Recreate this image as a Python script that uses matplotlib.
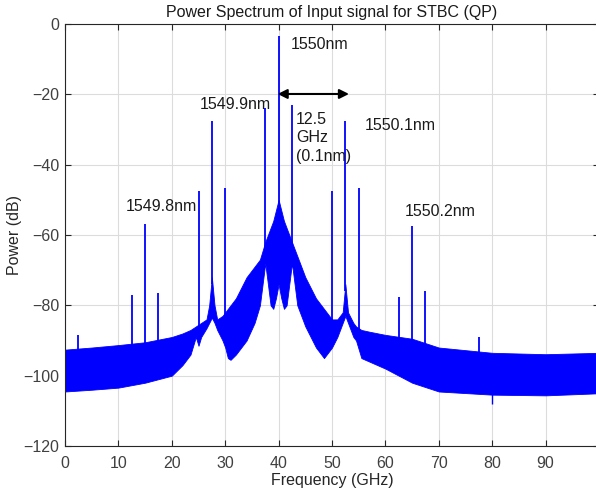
import numpy as np
import matplotlib
matplotlib.use('Agg')
import matplotlib.pyplot as plt

plt.rcParams['font.family'] = ['Liberation Sans', 'DejaVu Sans']

# noise floor / skirt envelope (GHz, dB)
env_freq = [0, 5, 10, 15, 20, 22, 23.5, 24.5, 25, 25.5, 26.5, 27, 27.5, 28, 28.5, 29.5,
            30, 30.5, 31, 32, 34, 35.5, 36.5, 37.5, 38.5, 39, 39.5, 40, 40.5, 41, 41.5,
            42.5, 43.5, 45, 47, 48.5, 49.5, 50, 51, 52, 52.5, 53, 54, 54.5, 55.5, 57,
            60, 65, 70, 80, 90, 100]
env_upper = [-92.6, -92, -91.3, -90.5, -89, -88, -87, -86, -85.5, -85, -84, -80, -72, -80, -84, -83,
             -82, -81, -80, -78, -72, -69, -67, -62, -58, -56, -53, -50, -53, -56, -58,
             -62, -66, -72, -78, -81, -83, -84, -84, -82, -74, -82, -85, -86, -87, -87.5,
             -88.4, -89.5, -92, -93.5, -93.9, -93.5]
env_lower = [-104.5, -104, -103.4, -102, -100, -97, -94, -89, -91.5, -89, -86.5, -85, -83.5, -85, -87, -90,
             -92, -95, -95.5, -94, -90, -85, -80, -68, -80, -81, -78, -74, -78, -81, -80,
             -68, -80, -86, -92, -95, -93, -92, -89, -85, -83, -85, -89, -90, -95, -96,
             -98, -102, -104.5, -105.4, -105.6, -105]

# discrete carriers / sidebands
peak_freq = [2.5, 12.5, 15, 17.5, 25, 27.5, 30, 37.5, 40, 42.5, 50, 52.5, 55, 62.5, 65, 67.5, 77.5]
peak_db = [-88.5, -77, -57, -76.5, -47.5, -27.5, -46.5, -24, -3.5, -23, -47.5, -27.7, -46.7,
           -77.5, -57.3, -76, -89]

# small downward spike seen near 80 GHz
dip_freq = [80]
dip_db = [-108]

labels = ['1550nm', '1549.9nm', '1550.1nm', '1549.8nm', '1550.2nm']
label_x = [42.3, 25.3, 56.2, 11.4, 63.7]
label_y = [-5.7, -23, -29, -52, -53.4]

blue = (0, 0, 1)
grey = '#262626'
fs = 11.5

fig = plt.figure(figsize=(5.96, 5.0), dpi=100)
ax = fig.add_axes([65 / 596, 54 / 500, 534 / 596, 422 / 500])

ax.fill_between(env_freq, env_lower, env_upper, color=blue, lw=0.6, edgecolor=blue)
# spikes start inside the filled floor
base = np.interp(peak_freq, env_freq, env_upper) - 2
ax.vlines(peak_freq, base, peak_db, color=blue, lw=1.3)
ax.vlines(dip_freq, -104, dip_db, color=blue, lw=1.0)

ax.set_xlim(0, 100)
ax.set_ylim(-120, 0)
ax.set_xticks(np.arange(0, 100, 10))
ax.set_yticks(np.arange(-120, 1, 20))
ax.grid(True, color='#dcdcdc', lw=0.8)
ax.set_axisbelow(True)
ax.tick_params(direction='in', top=True, right=True, length=4, color=grey,
               labelsize=fs, labelcolor='#404040', pad=4)
ax.tick_params(axis='x', pad=7)
for s in ax.spines.values():
    s.set_color(grey)
    s.set_linewidth(0.8)

ax.set_title('Power Spectrum of Input signal for STBC (QP)', fontsize=fs, color='#1a1a1a', pad=5)
ax.set_xlabel('Frequency (GHz)', fontsize=fs, color='#262626', labelpad=2)
ax.set_ylabel('Power (dB)', fontsize=fs, color='#262626', labelpad=1)

for t, x, y in zip(labels, label_x, label_y):
    ax.text(x, y, t, fontsize=fs, color='#1a1a1a', ha='left', va='center')
ax.text(43.3, -32.4, '12.5\nGHz\n(0.1nm)', fontsize=fs, color='#1a1a1a',
        ha='left', va='center', linespacing=1.3)

ax.annotate('', xy=(53.7, -19.9), xytext=(39.3, -19.9),
            arrowprops=dict(arrowstyle='<|-|>', color='black', lw=1.5, mutation_scale=14))

fig.savefig('out.png', dpi=100)
